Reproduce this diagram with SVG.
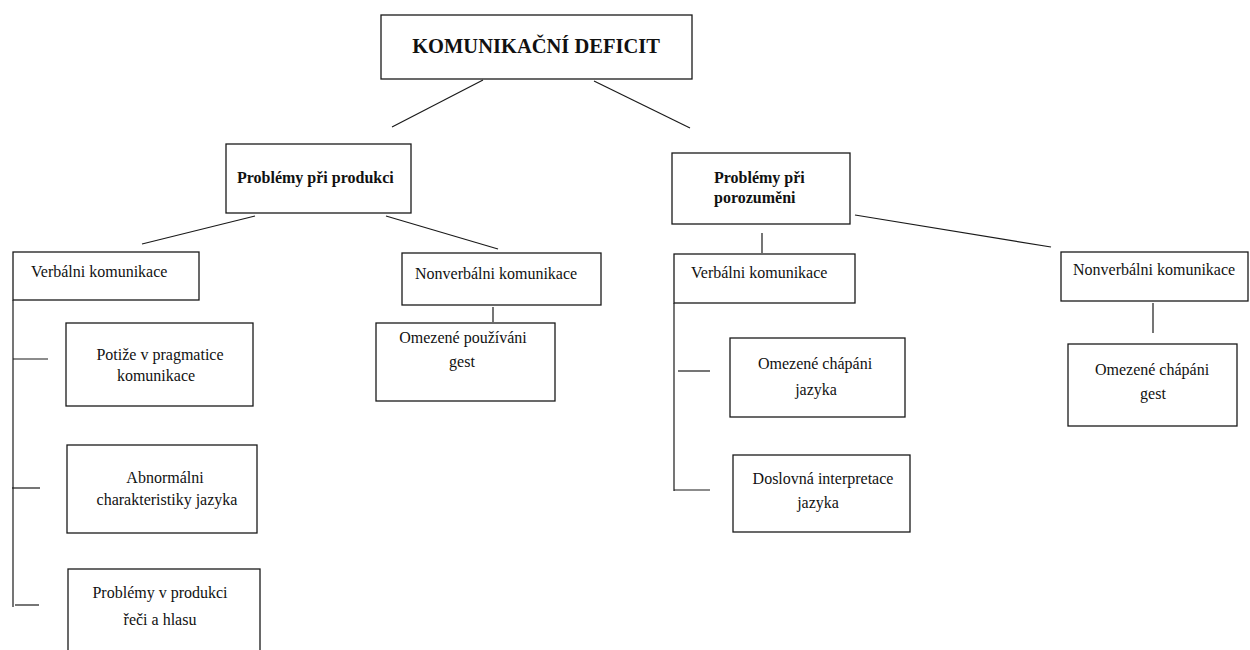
<svg xmlns="http://www.w3.org/2000/svg" width="1250" height="650" viewBox="0 0 1250 650">
<style>
.box{fill:#fff;stroke:#1a1a1a;stroke-width:1.3}
.ln{stroke:#1a1a1a;stroke-width:1.2;fill:none}
text{font-family:"Liberation Serif","Times New Roman",serif;font-size:16px;fill:#111}
.b{font-weight:bold}
.c{text-anchor:middle}
</style>
<rect width="1250" height="650" fill="#fff"/>
<g id="connectors">
<line class="ln" x1="483" y1="80" x2="392" y2="127"/>
<line class="ln" x1="594" y1="81" x2="690" y2="128"/>
<line class="ln" x1="255" y1="216" x2="142" y2="244"/>
<line class="ln" x1="386" y1="216" x2="498" y2="249"/>
<line class="ln" x1="493" y1="307" x2="493" y2="322"/>
<line class="ln" x1="13" y1="300" x2="13" y2="607"/>
<line class="ln" x1="13" y1="359" x2="48" y2="359"/>
<line class="ln" x1="12" y1="488" x2="40" y2="488"/>
<line class="ln" x1="15" y1="605" x2="39" y2="605"/>
<line class="ln" x1="855" y1="215" x2="1051" y2="247"/>
<line class="ln" x1="762" y1="233" x2="762" y2="253"/>
<line class="ln" x1="674" y1="303" x2="674" y2="491"/>
<line class="ln" x1="678" y1="371" x2="710" y2="371"/>
<line class="ln" x1="674" y1="490" x2="710" y2="490"/>
<line class="ln" x1="1153" y1="303" x2="1153" y2="333"/>
</g>
<g id="root">
<rect class="box" x="381" y="15" width="311" height="64"/>
<text class="b c" x="536" y="53" style="font-size:20.5px">KOMUNIKAČNÍ DEFICIT</text>
</g>
<g id="produkce">
<rect class="box" x="226" y="144" width="185" height="69"/>
<text class="b" x="237" y="183">Problémy při produkci</text>
</g>
<g id="porozumeni">
<rect class="box" x="672" y="153" width="178" height="71"/>
<text class="b" x="714" y="183">Problémy při</text>
<text class="b" x="714" y="203">porozuměni</text>
</g>
<g id="verbalni-produkce">
<rect class="box" x="13" y="252" width="186" height="48"/>
<text x="31" y="277">Verbálni komunikace</text>
</g>
<g id="nonverbalni-produkce">
<rect class="box" x="402" y="253" width="199" height="52"/>
<text x="415" y="279">Nonverbálni komunikace</text>
</g>
<g id="pragmatika">
<rect class="box" x="66" y="323" width="187" height="83"/>
<text class="c" x="160" y="360">Potiže v pragmatice</text>
<text class="c" x="156" y="381">komunikace</text>
</g>
<g id="abnormalni">
<rect class="box" x="67" y="445" width="190" height="88"/>
<text class="c" x="165" y="483">Abnormálni</text>
<text class="c" x="167" y="505">charakteristiky jazyka</text>
</g>
<g id="produkce-reci">
<rect class="box" x="68" y="569" width="192" height="100"/>
<text class="c" x="160" y="598">Problémy v produkci</text>
<text class="c" x="160" y="625">řeči a hlasu</text>
</g>
<g id="gesta-pouzivani">
<rect class="box" x="376" y="323" width="179" height="78"/>
<text class="c" x="463" y="343">Omezené používáni</text>
<text class="c" x="462" y="367">gest</text>
</g>
<g id="verbalni-porozumeni">
<rect class="box" x="674" y="254" width="181" height="49"/>
<text x="691" y="278">Verbálni komunikace</text>
</g>
<g id="nonverbalni-porozumeni">
<rect class="box" x="1061" y="252" width="187" height="49"/>
<text x="1073" y="275">Nonverbálni komunikace</text>
</g>
<g id="chapani-jazyka">
<rect class="box" x="730" y="338" width="175" height="79"/>
<text class="c" x="815" y="369">Omezené chápáni</text>
<text class="c" x="816" y="395">jazyka</text>
</g>
<g id="doslovna">
<rect class="box" x="733" y="455" width="177" height="77"/>
<text class="c" x="823" y="484">Doslovná interpretace</text>
<text class="c" x="818" y="508">jazyka</text>
</g>
<g id="chapani-gest">
<rect class="box" x="1068" y="344" width="169" height="82"/>
<text class="c" x="1152" y="375">Omezené chápáni</text>
<text class="c" x="1153" y="399">gest</text>
</g>
</svg>
